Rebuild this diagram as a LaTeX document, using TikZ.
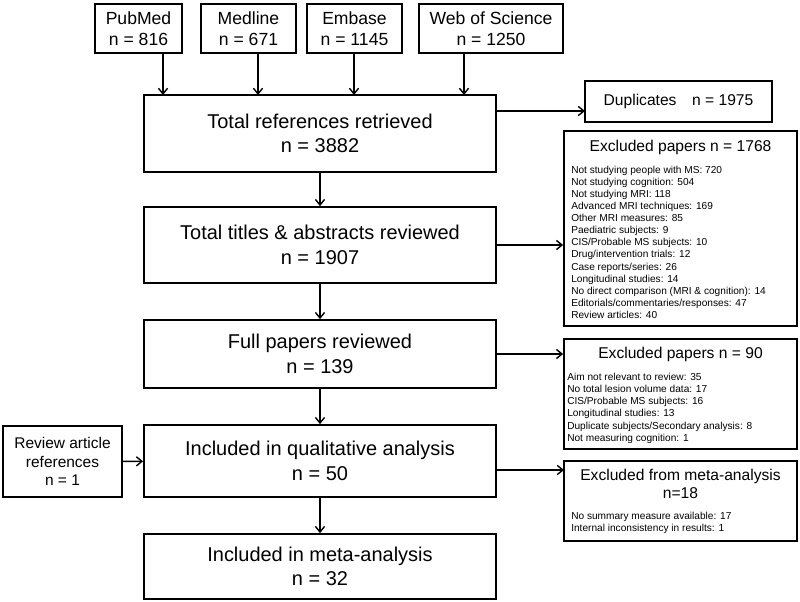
\documentclass[tikz,border=0pt]{standalone}
\usepackage{fontspec}
\setmainfont{Liberation Sans}
\usetikzlibrary{arrows.meta}

\begin{document}
\begin{tikzpicture}[x=0.025cm, y=-0.025cm,
    >={Straight Barb[length=4pt,width=6.5pt]},
    every edge/.append style={line width=1pt},
    box/.style={draw, line width=1.2pt, inner sep=0pt, align=center},
    dbbox/.style={box, minimum height=1.225cm, font=\fontsize{12.5}{15}\selectfont},
    stage/.style={box, minimum width=8.8cm, font=\fontsize{14.2}{17.4}\selectfont},
    outbox/.style={box, minimum width=5.825cm},
    heading/.style={align=center, inner sep=0pt, font=\fontsize{11.1}{13}\selectfont},
    reason/.style={anchor=base west, inner sep=0pt, font=\fontsize{7.2}{8.6}\selectfont}]
    \useasboundingbox (0,0) rectangle (800,602);
    \begin{scope}
      % Databases searched
      \node(pubmed) [dbbox, minimum width=2.175cm] at (138.5,28.5) {PubMed\\n = 816};
      \node(medline)[dbbox, minimum width=2.375cm] at (248.5,28.5) {Medline\\n = 671};
      \node(embase) [dbbox, minimum width=2.375cm] at (354.5,28.5) {Embase\\n = 1145};
      \node(wos)    [dbbox, minimum width=3.6cm]   at (491,28.5)   {Web of Science\\n = 1250};
    \end{scope}
    \begin{scope}
      % Screening stages
      \node(total) [stage, minimum height=1.925cm] at (320,133.5) {Total references retrieved\\n = 3882};
      \node(titles)[stage, minimum height=1.9cm]   at (320,245)   {Total titles \& abstracts reviewed\\n = 1907};
      \node(full)  [stage, minimum height=1.7cm]   at (320,354)   {Full papers reviewed\\n = 139};
      \node(qual)  [stage, minimum height=1.8cm]   at (320,461)   {Included in qualitative analysis\\n = 50};
      \node(meta)  [stage, minimum height=1.625cm] at (320,566.5) {Included in meta-analysis\\n = 32};
      \node(review)[box, minimum width=2.975cm, minimum height=1.775cm,
                    font=\fontsize{11}{13.2}\selectfont] at (62.5,461.5) {Review article\\references\\n = 1};
    \end{scope}
    \begin{scope}
      % Removed records
      \node(dup)[box, minimum width=4.675cm, minimum height=1.025cm,
                 font=\fontsize{11.1}{13}\selectfont] at (678.5,101.5) {Duplicates\hspace{1em}n = 1975};
      \node(excla)[outbox, minimum height=4.875cm] at (680.5,228.5) {};
      \node(exclb)[outbox, minimum height=2.75cm]  at (680.5,394)   {};
      \node(exclc)[outbox, minimum height=2cm]     at (680.5,501)   {};
      \node(heada)[heading] at (680.5,147) {Excluded papers n = 1768};
      \node(headb)[heading] at (680.5,354) {Excluded papers n = 90};
      \node(headc)[heading] at (680.5,484) {Excluded from meta-analysis\\n=18};
      \foreach \t [count=\i] in {{Not studying people with MS: 720}, {Not studying cognition: 504},
          {Not studying MRI: 118}, {Advanced MRI techniques: 169}, {Other MRI measures: 85},
          {Paediatric subjects: 9}, {CIS/Probable MS subjects: 10}, {Drug/intervention trials: 12},
          {Case reports/series: 26}, {Longitudinal studies: 14},
          {No direct comparison (MRI \& cognition): 14}, {Editorials/commentaries/responses: 47},
          {Review articles: 40}}
        \node(whya\i)[reason] at (571,161.2+12.1*\i) {\t};
      \foreach \t [count=\i] in {{Aim not relevant to review: 35}, {No total lesion volume data: 17},
          {CIS/Probable MS subjects: 16}, {Longitudinal studies: 13},
          {Duplicate subjects/Secondary analysis: 8}, {Not measuring cognition: 1}}
        \node(whyb\i)[reason] at (567,368.1+12.2*\i) {\t};
      \foreach \t [count=\i] in {{No summary measure available: 17}, {Internal inconsistency in results: 1}}
        \node(whyc\i)[reason] at (571,507.3+12*\i) {\t};
    \end{scope}
    % Arrow ends on the first stage and on the side boxes
    \coordinate(inpub) at (163,95);
    \coordinate(inmed) at (258,95);
    \coordinate(inemb) at (354,95);
    \coordinate(inwos) at (464,95);
    \coordinate(indup) at (585,111);
    \coordinate(inexc) at (564,470);
    \path (pubmed.south -| inpub) edge[->] (inpub);
    \path (medline.south -| inmed) edge[->] (inmed);
    \path (embase.south -| inemb) edge[->] (inemb);
    \path (wos.south -| inwos) edge[->] (inwos);
    \path (total)  edge[->] (titles);
    \path (titles) edge[->] (full);
    \path (full)   edge[->] (qual);
    \path (qual)   edge[->] (meta);
    \path (review) edge[->] (qual);
    \path (total.east |- indup) edge[->] (indup);
    \path (titles.east) edge[->] (titles.east -| excla.west);
    \path (full.east)   edge[->] (full.east -| exclb.west);
    \path (qual.east |- inexc) edge[->] (inexc);
\end{tikzpicture}
\end{document}
